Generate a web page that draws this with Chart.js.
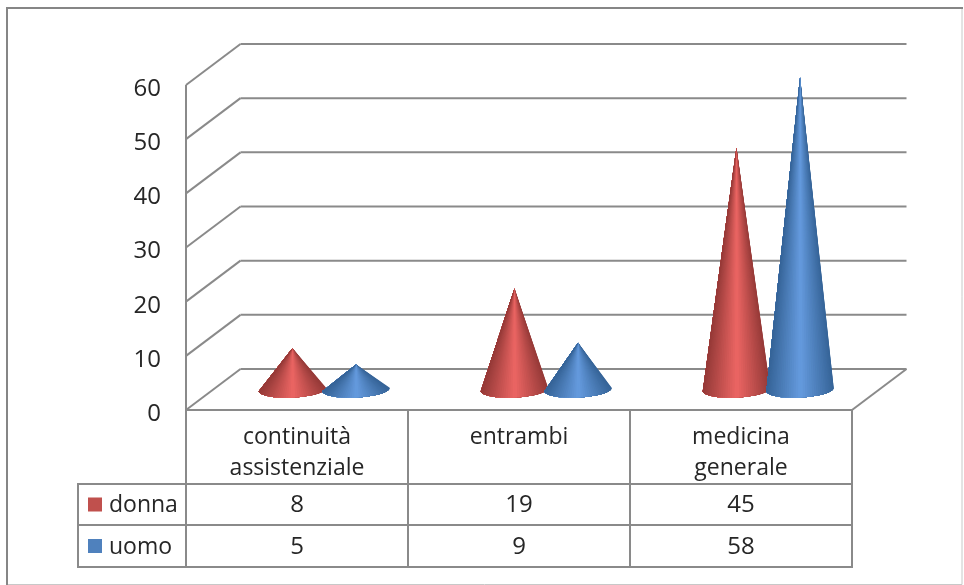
<!DOCTYPE html>
<html>
<head>
<meta charset="utf-8">
<style>
  html, body { margin: 0; padding: 0; background: #fff; }
  canvas { display: block; }
</style>
<script src="https://cdn.jsdelivr.net/npm/chart.js@4"></script>
</head>
<body>
<canvas id="chart" width="964" height="585"></canvas>
<script>
var categories = [["continuità", "assistenziale"], ["entrambi"], ["medicina", "generale"]];
var seriesNames = ["donna", "uomo"];
var donna = [8, 19, 45];
var uomo = [5, 9, 58];
var seriesColors = ["#c0504d", "#4f81bd"];

var fontFamily = "'Open Sans', sans-serif";
var textColor = "#262626";
var lineColor = "#8a8a8a";
var depthX = 54.5, depthY = 41;     // wall offset of the fake 3D box
var coneEdge = [[150, 58, 56], [54, 100, 152]];
var coneMid = [[236, 102, 100], [101, 155, 222]];

function line(ctx, x1, y1, x2, y2) {
  ctx.beginPath();
  ctx.moveTo(x1, y1);
  ctx.lineTo(x2, y2);
  ctx.stroke();
}

function mix(a, b, t) {
  return "rgb(" + a.map(function(v, i) { return Math.round(v + (b[i] - v) * t); }).join(",") + ")";
}

// each step repaints from its slice to the left end of the base, so no seams show
function drawCone(ctx, el, idx) {
  var cx = el.x + depthX / 2, cy = el.base - depthY / 2;
  var tipY = el.y - depthY / 2 + 2;
  var rx = el.width * 0.53, ry = 8, tilt = -0.05;
  var steps = 44;
  var cosT = Math.cos(tilt), sinT = Math.sin(tilt);
  for (var i = 0; i < steps; i++) {
    var mid = Math.PI * (i + 0.5) / steps;
    var t = 1 - Math.abs(Math.cos(mid));
    ctx.fillStyle = mix(coneEdge[idx], coneMid[idx], t);
    ctx.beginPath();
    ctx.moveTo(cx, tipY);
    for (var j = i; j <= steps; j++) {
      var a = Math.PI * j / steps;
      var px = rx * Math.cos(a), py = ry * Math.sin(a);
      ctx.lineTo(cx + px * cosT - py * sinT, cy + px * sinT + py * cosT);
    }
    ctx.closePath();
    ctx.fill();
  }
}

var box3d = {
  id: "box3d",
  beforeDatasetsDraw: function(chart) {
    var ctx = chart.ctx, a = chart.chartArea, y = chart.scales.y;
    ctx.save();
    // outer frame
    ctx.strokeStyle = "#c8c8c8";
    ctx.lineWidth = 1;
    line(ctx, 962, 8, 962, 584.5);
    line(ctx, 7, 584.5, 962, 584.5);
    ctx.strokeStyle = "#868686";
    ctx.lineWidth = 2;
    line(ctx, 7, 8, 963, 8);
    line(ctx, 7, 7, 7, 585);
    // walls
    ctx.strokeStyle = lineColor;
    y.ticks.forEach(function(t) {
      var py = y.getPixelForValue(t.value);
      line(ctx, a.left, py, a.left + depthX, py - depthY);
      line(ctx, a.left + depthX, py - depthY, a.right + depthX, py - depthY);
    });
    line(ctx, a.left, a.top, a.left, a.bottom);
    line(ctx, a.left, a.bottom, a.right, a.bottom);
    line(ctx, a.right, a.bottom, a.right + depthX, a.bottom - depthY);
    ctx.restore();
  },
  afterDatasetsDraw: function(chart) {
    var ctx = chart.ctx;
    ctx.save();
    chart.data.datasets.forEach(function(ds, d) {
      chart.getDatasetMeta(d).data.forEach(function(el) { drawCone(ctx, el, d); });
    });
    ctx.restore();
  },
  afterDraw: function(chart) {
    var ctx = chart.ctx, a = chart.chartArea;
    var rows = [484, 525, 567], tableLeft = 78;
    var colW = (a.right - a.left) / categories.length;
    ctx.save();
    ctx.strokeStyle = lineColor;
    ctx.lineWidth = 2;
    line(ctx, tableLeft, rows[0], a.right, rows[0]);
    line(ctx, tableLeft, rows[1], a.right, rows[1]);
    line(ctx, tableLeft, rows[2], a.right, rows[2]);
    line(ctx, tableLeft, rows[0] - 1, tableLeft, rows[2] + 1);
    for (var c = 0; c <= categories.length; c++) {
      line(ctx, a.left + colW * c, a.bottom, a.left + colW * c, rows[2] + 1);
    }
    ctx.textBaseline = "middle";
    chart.data.datasets.forEach(function(ds, d) {
      var my = (rows[d] + rows[d + 1]) / 2;
      ctx.fillStyle = seriesColors[d];
      ctx.fillRect(88, my - 7, 14, 14);
      ctx.fillStyle = textColor;
      ctx.textAlign = "left";
      ctx.font = "23px " + fontFamily;
      ctx.fillText(ds.label, 109, my + 1);
      ctx.textAlign = "center";
      ctx.font = "24px " + fontFamily;
      ds.data.forEach(function(v, i) {
        ctx.fillText(String(v), a.left + colW * (i + 0.5), my + 1);
      });
    });
    ctx.restore();
  }
};

new Chart(document.getElementById("chart").getContext("2d"), {
  type: "bar",
  data: {
    labels: categories,
    datasets: [
      { label: seriesNames[0], data: donna, backgroundColor: "rgba(0,0,0,0)" },
      { label: seriesNames[1], data: uomo, backgroundColor: "rgba(0,0,0,0)" }
    ]
  },
  options: {
    responsive: false,
    animation: false,
    events: [],
    layout: { padding: { top: 85, right: 112, left: 0, bottom: 0 } },
    datasets: { bar: { categoryPercentage: 0.573, barPercentage: 1 } },
    plugins: { legend: { display: false }, tooltip: { enabled: false } },
    scales: {
      y: {
        min: 0,
        max: 60,
        ticks: { stepSize: 10, color: textColor, padding: 25, labelOffset: 4, font: { family: fontFamily, size: 24 } },
        grid: { display: false, drawTicks: false },
        border: { display: false },
        afterFit: function(s) { s.width = 186; }
      },
      x: {
        ticks: { color: textColor, padding: 12, maxRotation: 0, autoSkip: false, font: { family: fontFamily, size: 23, lineHeight: 1.36 } },
        grid: { display: false, drawTicks: false },
        border: { display: false },
        afterFit: function(s) { s.height = 175; }
      }
    }
  },
  plugins: [box3d]
});
</script>
</body>
</html>
